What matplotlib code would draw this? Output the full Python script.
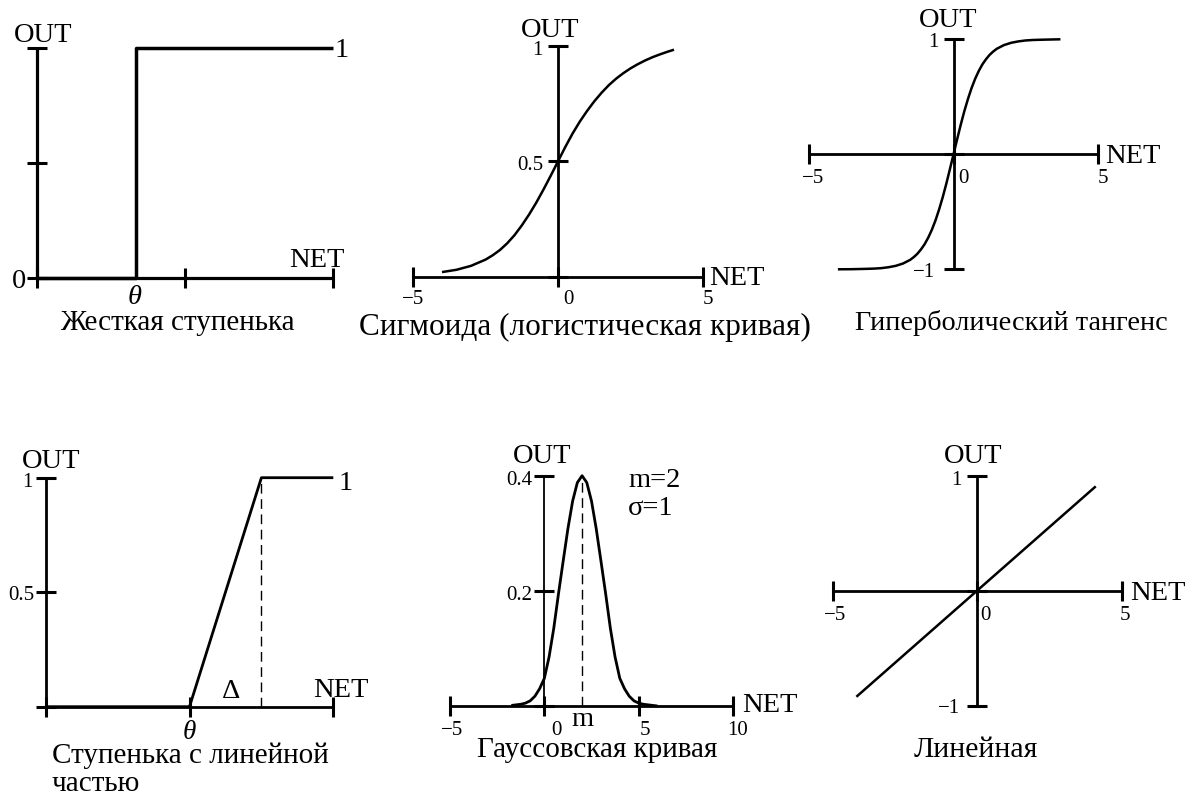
import matplotlib
matplotlib.use("Agg")
import matplotlib.pyplot as plt

# ---------------- data ----------------
# 1. Hard step (threshold theta = 1)
step_x = [0, 1, 1, 3]
step_y = [0, 0, 1, 1]
step_xticks = [1.5, 3]
step_yticks = [0.5, 1]

# 2. Sigmoid (logistic curve)
sig_x = [-4.0, -3.5, -3.0, -2.5, -2.25, -2.0, -1.75, -1.5, -1.25, -1.0, -0.75,
         -0.5, -0.25, 0.0, 0.25, 0.5, 0.75, 1.0, 1.25, 1.5, 1.75, 2.0, 2.25,
         2.5, 2.75, 3.0, 3.25, 3.5, 3.75, 4.0]
sig_y = [0.020, 0.030, 0.047, 0.074, 0.093, 0.116, 0.145, 0.180, 0.222, 0.269,
         0.321, 0.378, 0.438, 0.500, 0.562, 0.620, 0.672, 0.718, 0.760, 0.797,
         0.830, 0.858, 0.882, 0.903, 0.921, 0.937, 0.951, 0.963, 0.974, 0.984]
sig_xticks = [-5, 0, 5]
sig_xlabels = ["\u22125", "0", "5"]
sig_yticks = [0, 0.5, 1]

# 3. Hyperbolic tangent
tanh_x = [-4.0, -3.5, -3.0, -2.75, -2.5, -2.25, -2.0, -1.75, -1.5, -1.375,
          -1.25, -1.125, -1.0, -0.875, -0.75, -0.625, -0.5, -0.375, -0.25,
          -0.125, 0.0, 0.125, 0.25, 0.375, 0.5, 0.625, 0.75, 0.875, 1.0, 1.125,
          1.25, 1.375, 1.5, 1.75, 2.0, 2.25, 2.5, 2.75, 3.0, 3.5, 3.7]
tanh_y = [-1.000, -0.999, -0.996, -0.994, -0.990, -0.982, -0.970, -0.950,
          -0.918, -0.894, -0.865, -0.827, -0.782, -0.725, -0.657, -0.576,
          -0.481, -0.375, -0.257, -0.130, 0.000, 0.130, 0.257, 0.375, 0.481,
          0.576, 0.657, 0.725, 0.782, 0.827, 0.865, 0.894, 0.918, 0.950, 0.970,
          0.982, 0.990, 0.994, 0.996, 0.999, 1.000]
tanh_xticks = [-5, 0, 5]
tanh_xlabels = ["\u22125", "0", "5"]
tanh_yticks = [-1, 0, 1]

# 4. Step with linear part (theta = 2, delta = 1)
ramp_x = [0, 2, 3, 4]
ramp_y = [0, 0, 1, 1]
ramp_xticks = [2, 4]
ramp_yticks = [0.5, 1]

# 5. Gaussian curve (m = 2, sigma = 1)
gauss_x = [-1.75, -1.5, -1.25, -1.0, -0.75, -0.5, -0.25, 0.0, 0.25, 0.5, 0.75,
           1.0, 1.25, 1.5, 1.75, 2.0, 2.25, 2.5, 2.75, 3.0, 3.25, 3.5, 3.75,
           4.0, 4.25, 4.5, 4.75, 5.0, 5.25, 5.5, 5.75, 6.0]
gauss_y = [0.001, 0.002, 0.003, 0.005, 0.009, 0.017, 0.030, 0.048, 0.085,
           0.135, 0.195, 0.252, 0.308, 0.356, 0.388, 0.400, 0.388, 0.356,
           0.308, 0.252, 0.195, 0.135, 0.085, 0.048, 0.030, 0.017, 0.009,
           0.005, 0.003, 0.002, 0.001, 0.000]
gauss_m = 2
gauss_peak = 0.4
gauss_xticks = [-5, 0, 5, 10]
gauss_xlabels = ["\u22125", "0", "5", "10"]
gauss_yticks = [0, 0.2, 0.4]

# 6. Linear
lin_x = [-4.2, 4.1]
lin_y = [-0.92, 0.91]
lin_xticks = [-5, 0, 5]
lin_xlabels = ["\u22125", "0", "5"]
lin_yticks = [-1, 0, 1]

captions = ["Жесткая ступенька", "Сигмоида (логистическая кривая)",
            "Гиперболический тангенс", "Ступенька с линейной", "частью",
            "Гауссовская кривая", "Линейная"]

# ---------------- layout / style ----------------
W, H = 1197, 798
fig = plt.figure(figsize=(W / 100, H / 100), dpi=100)
fig.patch.set_facecolor("white")
FONT = "Liberation Serif"
BIG = 20.5
SMALL = 15
AX_LW = 2.0
CURVE_LW = 1.8
TICK_MS = 14
TICK_MEW = 2.2


def px_axes(x0, x1, y_top, y_bot, xlim, ylim):
    ax = fig.add_axes([x0 / W, 1 - y_bot / H, (x1 - x0) / W, (y_bot - y_top) / H])
    ax.set_xlim(*xlim)
    ax.set_ylim(*ylim)
    ax.set_axis_off()
    return ax


def label(x, y, s, size=BIG, ha="center", **kw):
    fig.text(x / W, 1 - y / H, s, ha=ha, va="baseline", fontsize=size,
             family=FONT, color="black", **kw)


def line(ax, xs, ys, lw=AX_LW, **kw):
    ax.plot(xs, ys, color="black", lw=lw, clip_on=False,
            solid_capstyle="butt", **kw)


def xticks(ax, xs, y0=0):
    ax.plot(xs, [y0] * len(xs), ls="none", marker="|", ms=TICK_MS,
            mew=TICK_MEW, color="black", clip_on=False)


def yticks(ax, ys, x0=0):
    ax.plot([x0] * len(ys), ys, ls="none", marker="_", ms=TICK_MS,
            mew=TICK_MEW, color="black", clip_on=False)


# ---- Panel 1: hard step ----
ax1 = px_axes(37.3, 333.3, 48.3, 277.7, (0, 3), (0, 1))
line(ax1, [0, 3], [0, 0], lw=2.3)
line(ax1, [0, 0], [0, 1], lw=2.3)
line(ax1, step_x, step_y, lw=2.5)
xticks(ax1, step_xticks)
yticks(ax1, step_yticks)
ax1.plot([0], [0], marker="+", ms=TICK_MS, mew=TICK_MEW, color="black", clip_on=False)
label(43, 42, "OUT")
label(342, 57, "1")
label(19, 288, "0")
label(317, 267, "NET")
label(135, 304, "θ", style="italic")
label(177, 330, captions[0], size=21)

# ---- Panel 2: sigmoid ----
ax2 = px_axes(413, 703, 46, 276.7, (-5, 5), (0, 1))
line(ax2, [-5, 5], [0, 0])
line(ax2, [0, 0], [0, 1])
line(ax2, sig_x, sig_y, lw=CURVE_LW)
xticks(ax2, sig_xticks)
yticks(ax2, sig_yticks)
label(550, 37, "OUT")
label(537, 55, "1", size=SMALL)
label(530, 170, "0.5", size=SMALL)
for xp, s in zip([413, 568, 708], sig_xlabels):
    label(xp, 304, s, size=SMALL)
label(737, 285, "NET")
label(585, 335, captions[1], size=22.5)

# ---- Panel 3: tanh ----
ax3 = px_axes(809, 1098, 39.3, 269.3, (-5, 5), (-1, 1))
line(ax3, [-5, 5], [0, 0])
line(ax3, [0, 0], [-1, 1])
line(ax3, tanh_x, tanh_y, lw=CURVE_LW)
xticks(ax3, tanh_xticks)
yticks(ax3, tanh_yticks)
label(948, 27, "OUT")
label(933, 47, "1", size=SMALL)
label(924, 277, "\u22121", size=SMALL)
for xp, s in zip([813, 963, 1103], tanh_xlabels):
    label(xp, 183, s, size=SMALL)
label(1133, 163, "NET")
label(1011, 330, captions[2], size=20.3)

# ---- Panel 4: step with linear part ----
ax4 = px_axes(45.7, 333.3, 477.7, 706.7, (0, 4), (0, 1))
line(ax4, [0, 4], [0, 0])
line(ax4, [0, 0], [0, 1])
line(ax4, ramp_x, ramp_y, lw=2.0)
ax4.plot([ramp_x[2], ramp_x[2]], [0, 1], color="black", lw=1.0,
         ls=(0, (7, 4)), clip_on=False)
xticks(ax4, ramp_xticks)
yticks(ax4, ramp_yticks)
ax4.plot([0], [0], marker="+", ms=TICK_MS, mew=TICK_MEW, color="black", clip_on=False)
label(51, 468, "OUT")
label(27, 487, "1", size=SMALL)
label(21, 600, "0.5", size=SMALL)
label(346, 490, "1")
label(341, 697, "NET")
label(231, 698, "Δ")
label(189, 739, "θ", style="italic", size=19.5)
label(52, 763, captions[3], ha="left", size=21)
label(52, 791, captions[4], ha="left", size=21)

# ---- Panel 5: Gaussian ----
ax5 = px_axes(450, 733, 475.7, 706, (-5, 10), (0, 0.4))
line(ax5, [-5, 10], [0, 0])
line(ax5, [0, 0], [0, 0.4], lw=1.3)
line(ax5, gauss_x, gauss_y, lw=2.0)
ax5.plot([gauss_m, gauss_m], [0, gauss_peak], color="black", lw=1.0,
         ls=(0, (7, 4)), clip_on=False)
xticks(ax5, gauss_xticks)
yticks(ax5, gauss_yticks)
label(542, 463, "OUT")
label(519, 485, "0.4", size=SMALL)
label(519, 600, "0.2", size=SMALL)
label(628, 487, "m=2", ha="left")
label(628, 515, "σ=1", ha="left")
for xp, s in zip([452, 556, 645, 738], gauss_xlabels):
    label(xp, 735, s, size=SMALL)
label(582, 726, "m")
label(770, 712, "NET")
label(597, 757, captions[5], size=21)

# ---- Panel 6: linear ----
ax6 = px_axes(833.3, 1121.7, 476, 706, (-5, 5), (-1, 1))
line(ax6, [-5, 5], [0, 0])
line(ax6, [0, 0], [-1, 1])
line(ax6, lin_x, lin_y, lw=CURVE_LW)
xticks(ax6, lin_xticks)
yticks(ax6, lin_yticks)
label(973, 463, "OUT")
label(956, 485, "1", size=SMALL)
label(949, 713, "\u22121", size=SMALL)
for xp, s in zip([835, 985, 1125], lin_xlabels):
    label(xp, 620, s, size=SMALL)
label(1158, 600, "NET")
label(976, 757, captions[6], size=21.5)

fig.savefig("out.png", dpi=100, facecolor="white")
